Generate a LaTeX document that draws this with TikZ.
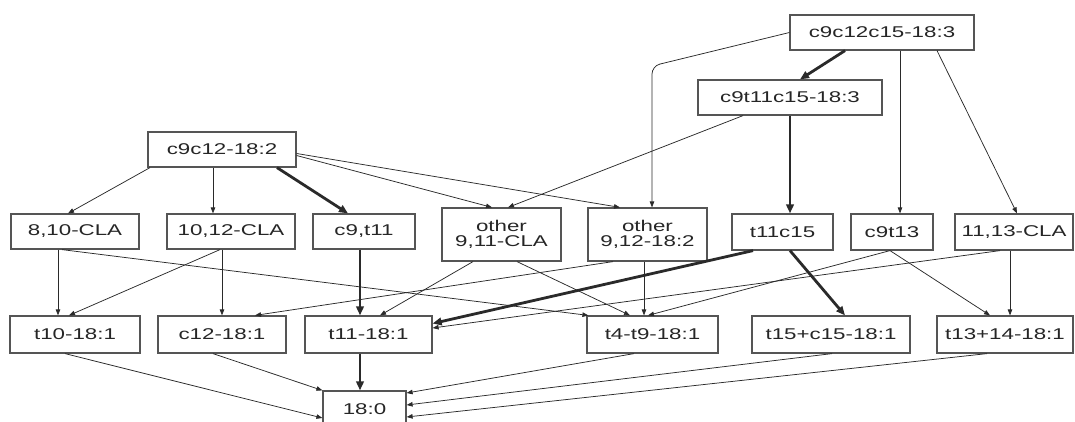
\documentclass[tikz,border=0pt]{standalone}
\usepackage{fontspec}
\setmainfont{Liberation Sans}[FakeStretch=1.43]
\usetikzlibrary{arrows.meta}
\definecolor{boxc}{HTML}{555555}
\definecolor{linec}{HTML}{2A2A2A}
\definecolor{textc}{HTML}{262626}
\tikzset{
  box/.style={draw=boxc, line width=1.2pt, fill=white, inner sep=0pt, text=textc,
    font=\fontsize{15.6}{15.5}\selectfont, align=center},
  thin/.style={draw=linec, line width=0.75pt, -{Triangle[length=6pt,width=4.5pt]}},
  thick/.style={draw=linec, line width=2.8pt, -{Triangle[length=9pt,width=7.5pt]}},
}
\begin{document}
\begin{tikzpicture}[x=1pt,y=-1pt]
\useasboundingbox (0,0) rectangle (1075,421);
\clip (0,0) rectangle (1075,421);
% top
\node[box, minimum width=184pt, minimum height=35pt] (A) at (882,32.5) {c9c12c15-18:3};
\node[box, minimum width=184pt, minimum height=35pt] (B) at (790,97.5) {c9t11c15-18:3};
\node[box, minimum width=148pt, minimum height=35pt] (C) at (222,149.5) {c9c12-18:2};
% middle row
\node[box, minimum width=128pt, minimum height=35pt] (D) at (75,231.5) {8,10-CLA};
\node[box, minimum width=128pt, minimum height=35pt] (E) at (231,231.5) {10,12-CLA};
\node[box, minimum width=102pt, minimum height=35pt] (F) at (364,231.5) {c9,t11};
\node[box, minimum width=119pt, minimum height=53pt] (G) at (501.5,234.5) {other\\9,11-CLA};
\node[box, minimum width=119pt, minimum height=53pt] (H) at (647.5,234.5) {other\\9,12-18:2};
\node[box, minimum width=101pt, minimum height=36pt] (I) at (782.5,232) {t11c15};
\node[box, minimum width=82pt, minimum height=36pt] (J) at (892,232) {c9t13};
\node[box, minimum width=118pt, minimum height=36pt] (K) at (1014,232) {11,13-CLA};
% bottom row
\node[box, minimum width=130pt, minimum height=37pt] (L) at (75,334.5) {t10-18:1};
\node[box, minimum width=128pt, minimum height=37pt] (M) at (222,334.5) {c12-18:1};
\node[box, minimum width=127pt, minimum height=37pt] (N) at (368.5,334.5) {t11-18:1};
\node[box, minimum width=131pt, minimum height=37pt] (O) at (652.5,334.5) {t4-t9-18:1};
\node[box, minimum width=158pt, minimum height=37pt] (P) at (831,334.5) {t15+c15-18:1};
\node[box, minimum width=136pt, minimum height=37pt] (Q) at (1005,334.5) {t13+14-18:1};
\node[box, minimum width=83pt, minimum height=37pt] (R) at (364.5,409.5) {18:0};
\coordinate (bendAH) at (652,66);
% edges from A
\draw[thick] ([xshift=-37pt]A.south) -- ([xshift=10pt]B.north);
\draw[thin, rounded corners=8pt] (A.west) -- (bendAH) -- ([xshift=4.5pt]H.north);
\draw[thin] ([xshift=18pt]A.south) -- ([xshift=8pt]J.north);
\draw[thin] ([xshift=55pt]A.south) -- ([xshift=3pt]K.north);
% edges from B
\draw[thick] (B.south) -- ([xshift=7.5pt]I.north);
\draw[thin] ([xshift=-47pt]B.south) -- ([xshift=6.5pt]G.north);
% edges from C
\draw[thin] ([xshift=-72pt]C.south) -- ([xshift=-7pt]D.north);
\draw[thin] ([xshift=-9pt]C.south) -- ([xshift=-18pt]E.north);
\draw[thick] ([xshift=55pt]C.south) -- ([xshift=-16pt]F.north);
\draw[thin] ([yshift=-6pt]C.east) -- ([xshift=-9.5pt]G.north);
\draw[thin] ([yshift=-4pt]C.east) -- ([xshift=-27.5pt]H.north);
% middle to bottom
\draw[thin] ([xshift=-17pt]D.south) -- ([xshift=-17pt]L.north);
\draw[thin] ([xshift=-13pt]D.south) -- ([xshift=2pt]O.north west);
\draw[thin] ([xshift=-11pt]E.south) -- ([xshift=-6pt]L.north);
\draw[thin] ([xshift=-9pt]E.south) -- ([xshift=0pt]M.north);
\draw[thick] ([xshift=-4pt]F.south) -- ([xshift=-8.5pt]N.north);
\draw[thin] ([xshift=-28.5pt]G.south) -- ([xshift=11.5pt]N.north);
\draw[thin] ([xshift=15.5pt]G.south) -- ([xshift=-22.5pt]O.north);
\draw[thin] ([xshift=-3.5pt]H.south) -- ([xshift=-8.5pt]O.north);
\draw[thin] ([xshift=-34.5pt]H.south) -- ([xshift=33pt]M.north);
\draw[thick] ([xshift=-29.5pt]I.south) -- ([yshift=11pt]N.east);
\draw[thick] ([xshift=7.5pt]I.south) -- ([xshift=14pt]P.north);
\draw[thin] ([xshift=-2pt]J.south) -- ([xshift=-4.5pt]O.north);
\draw[thin] ([xshift=-2pt]J.south) -- ([xshift=-15pt]Q.north);
\draw[thin] ([xshift=-4pt]K.south) -- ([xshift=5pt]Q.north);
\draw[thin] ([xshift=-14pt]K.south) -- ([yshift=6.5pt]N.east);
% into 18:0
\draw[thin] ([xshift=-10pt]L.south) -- ([yshift=-8.5pt]R.west);
\draw[thin] ([xshift=-9pt]M.south) -- (R.north west);
\draw[thick] ([xshift=-8.5pt]N.south) -- ([xshift=-4.5pt]R.north);
\draw[thin] ([xshift=-18.5pt]O.south) -- ([yshift=16.5pt]R.east);
\draw[thin] ([xshift=1pt]P.south) -- ([yshift=4.5pt]R.east);
\draw[thin] ([xshift=-18pt]Q.south) -- ([yshift=-7.5pt]R.east);
\end{tikzpicture}
\end{document}
